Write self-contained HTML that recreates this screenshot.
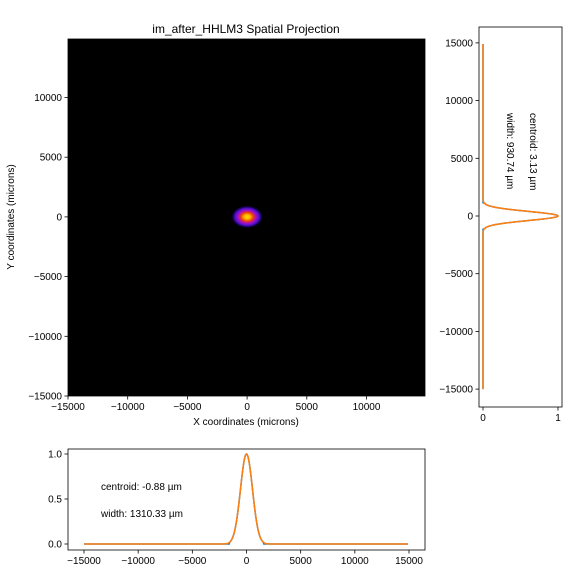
<!DOCTYPE html>
<html><head><meta charset="utf-8"><style>
body{margin:0;background:#fff;}
svg text{font-family:"Liberation Sans",sans-serif;font-size:10px;fill:#000;}
</style></head><body>
<svg id="s" width="576" height="576" xmlns="http://www.w3.org/2000/svg">
<defs>
<radialGradient id="blob" cx="50%" cy="50%" r="50%">
<stop offset="0" stop-color="#ffe000"/>
<stop offset="0.2" stop-color="#ffb000"/>
<stop offset="0.4" stop-color="#e83a10"/>
<stop offset="0.55" stop-color="#b010c0"/>
<stop offset="0.75" stop-color="#5010d0"/>
<stop offset="0.9" stop-color="#100040"/>
<stop offset="1" stop-color="#000"/>
</radialGradient>
</defs>
<text x="246" y="33" text-anchor="middle" style="font-size:12px">im_after_HHLM3 Spatial Projection</text>
<rect x="68" y="39" width="357" height="357" fill="#000"/>
<ellipse id="blobEl" fill="url(#blob)"/>
<rect x="68" y="39" width="357" height="357" fill="none" stroke="#000" stroke-width="0.8"/>
<text x="246" y="425" text-anchor="middle">X coordinates (microns)</text>
<text transform="translate(14,217) rotate(-90)" text-anchor="middle">Y coordinates (microns)</text>
<g id="mainAx"></g>
<rect x="479" y="27" width="83" height="380" fill="none" stroke="#000" stroke-width="0.8"/>
<g id="rightAx"></g>
<text transform="translate(530,113) rotate(90)">centroid: 3.13 µm</text>
<text transform="translate(507,113) rotate(90)">width: 930.74 µm</text>
<rect x="68" y="449" width="357" height="101" fill="none" stroke="#000" stroke-width="0.8"/>
<g id="botAx"></g>
<text x="101" y="490">centroid: -0.88 µm</text>
<text x="101" y="517">width: 1310.33 µm</text>
</svg>
<script>
const mainTicksX=[-15000,-10000,-5000,0,5000,10000];
const mainTicksY=[-15000,-10000,-5000,0,5000,10000];
const rightTicksY=[-15000,-10000,-5000,0,5000,10000,15000];
const rightTicksX=[0,1];
const botTicksX=[-15000,-10000,-5000,0,5000,10000,15000];
const botTicksY=[0.0,0.5,1.0];
const xCentroid=-0.88, xWidth=1310.33, yCentroid=3.13, yWidth=930.74;
const NS="http://www.w3.org/2000/svg";
const svg=document.getElementById('s');
function el(t,a,p){const e=document.createElementNS(NS,t);for(const k in a)e.setAttribute(k,a[k]);(p||svg).appendChild(e);return e;}
const mx=v=>68+(v+15000)*357/29900, my=v=>396-(v+15000)*357/29900;
const ry=v=>216-v*57.7/5000, rx=v=>483+v*75;
const bx=v=>84+(v+15000)*325/30000, by=v=>544-v*90;
const fmt=v=>String(v).replace('-','\u2212');
const ma=document.getElementById('mainAx'),ra=document.getElementById('rightAx'),ba=document.getElementById('botAx');
mainTicksX.forEach(v=>{const x=mx(v);el('line',{x1:x,x2:x,y1:396,y2:399.5,stroke:'#000','stroke-width':0.8},ma);
const t=el('text',{x:x,y:410,'text-anchor':'middle'},ma);t.textContent=fmt(v);

});
mainTicksY.forEach(v=>{const y=my(v);el('line',{x1:64.5,x2:68,y1:y,y2:y,stroke:'#000','stroke-width':0.8},ma);
const t=el('text',{x:62,y:y+3.5,'text-anchor':'end'},ma);t.textContent=fmt(v);

});
const sx=xWidth/2.3548, sy=yWidth/2.3548;
const b=document.getElementById('blobEl');
b.setAttribute('cx',mx(xCentroid));b.setAttribute('cy',my(yCentroid));
b.setAttribute('rx',2.4*sx*357/29900);b.setAttribute('ry',2.4*sy*357/29900);
rightTicksY.forEach(v=>{const y=ry(v);el('line',{x1:475.5,x2:479,y1:y,y2:y,stroke:'#000','stroke-width':0.8},ra);
const t=el('text',{x:473,y:y+3.5,'text-anchor':'end'},ra);t.textContent=fmt(v);

});
rightTicksX.forEach(v=>{const x=rx(v);el('line',{x1:x,x2:x,y1:407,y2:410.5,stroke:'#000','stroke-width':0.8},ra);
const t=el('text',{x:x,y:421,'text-anchor':'middle'},ra);t.textContent=v;

});
botTicksX.forEach(v=>{const x=bx(v);el('line',{x1:x,x2:x,y1:550,y2:553.5,stroke:'#000','stroke-width':0.8},ba);
const t=el('text',{x:x,y:564,'text-anchor':'middle'},ba);t.textContent=fmt(v);

});
botTicksY.forEach(v=>{const y=by(v);el('line',{x1:64.5,x2:68,y1:y,y2:y,stroke:'#000','stroke-width':0.8},ba);
const t=el('text',{x:62,y:y+3.5,'text-anchor':'end'},ba);t.textContent=v.toFixed(1);

});
let pb=[],pbf=[],pr=[],prf=[];
for(let v=-15000;v<=14900;v+=50){
 const gx=Math.exp(-0.5*((v-xCentroid)/sx)**2), gy=Math.exp(-0.5*((v-yCentroid)/sy)**2);
 pb.push(bx(v)+','+by(gx)); pbf.push(bx(v)+','+by(gx>0.02?gx:0));
 pr.push(rx(gy)+','+ry(v)); prf.push(rx(gy>0.02?gy:0)+','+ry(v));
}
const l1=el('polyline',{points:pbf.join(' '),fill:'none',stroke:'#1f77b4','stroke-width':1.5},ba);


const l2=el('polyline',{points:pb.join(' '),fill:'none',stroke:'#ff7f0e','stroke-width':1.5},ba);


const l3=el('polyline',{points:prf.join(' '),fill:'none',stroke:'#1f77b4','stroke-width':1.5},ra);


const l4=el('polyline',{points:pr.join(' '),fill:'none',stroke:'#ff7f0e','stroke-width':1.5},ra);


</script>
</body></html>
